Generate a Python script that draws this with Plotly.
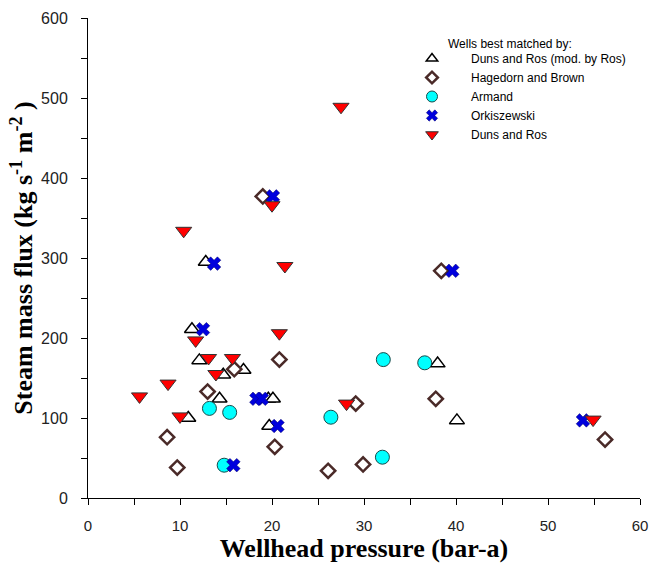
import plotly.graph_objects as go

# Data (wellhead pressure bar-a, steam mass flux kg s-1 m-2)
dr_mod_x = [12.8, 11.3, 12.1, 14.7, 16.9, 14.3, 10.9, 19.6, 20.1, 19.7, 38.0, 40.1]
dr_mod_y = [295, 211, 172, 154, 160, 124, 100, 124, 124, 90, 168, 97]

hb_x = [19.0, 15.9, 13.0, 20.8, 8.6, 9.7, 20.3, 29.1, 37.8, 26.1, 29.9, 38.4, 56.2]
hb_y = [377, 161, 133, 173, 76, 38, 64, 118, 124, 34, 42, 284, 73]

arm_x = [13.2, 15.4, 14.8, 32.1, 36.6, 26.4, 32.0]
arm_y = [112, 107, 41, 173, 169, 101, 51]

ork_x = [20.1, 13.7, 12.5, 18.3, 18.9, 20.6, 15.8, 39.6, 53.8]
ork_y = [377, 293, 211, 124, 124, 90, 41, 284, 97]

dr_x = [27.5, 20.0, 10.4, 21.4, 20.8, 11.7, 13.1, 15.7, 13.9, 8.7, 5.6, 10.0, 28.1, 54.9]
dr_y = [489, 366, 334, 290, 206, 197, 175, 175, 155, 143, 127, 102, 118, 98]

series_names = ["Duns and Ros (mod. by Ros)", "Hagedorn and Brown", "Armand", "Orkiszewski", "Duns and Ros"]
series_data = [(dr_mod_x, dr_mod_y), (hb_x, hb_y), (arm_x, arm_y), (ork_x, ork_y), (dr_x, dr_y)]

styles = [
    dict(symbol="triangle-up", size=13, color="white", line=dict(color="black", width=1.5)),
    dict(symbol="diamond", size=11, color="white", line=dict(color="#4a2a28", width=2.5)),
    dict(symbol="circle", size=14, color="#00ffff", line=dict(color="#1a4a4a", width=1)),
    dict(symbol="x", size=12, color="#0000dd", line=dict(color="#000066", width=0.5)),
    dict(symbol="triangle-down", size=14, color="#ff0000", line=dict(color="#333333", width=1)),
]
legend_sizes = [10, 9, 11, 10, 11]

fig = go.Figure()
for name, (xs, ys), st in zip(series_names, series_data, styles):
    fig.add_trace(go.Scatter(x=xs, y=ys, mode="markers", name=name, marker=st,
                             showlegend=False, legendgroup=name))
# legend entries with smaller symbols, as in the reference
for name, st, ls in zip(series_names, styles, legend_sizes):
    lst = dict(st)
    lst["size"] = ls
    fig.add_trace(go.Scatter(x=[None], y=[None], mode="markers", name=name, marker=lst,
                             showlegend=True, legendgroup=name))

axis_common = dict(showgrid=False, zeroline=False, showline=True, linecolor="black", linewidth=1,
                   ticks="outside", ticklen=6, tickcolor="black", automargin=False)

fig.update_xaxes(range=[0, 60], dtick=10, tick0=0,
                 minor=dict(dtick=5, ticks="outside", ticklen=6, tickcolor="black"),
                 tickfont=dict(family="Liberation Sans, Arial", size=15, color="#222222"),
                 ticklabelstandoff=8,
                 title=dict(text="<b>Wellhead pressure (bar-a)</b>", standoff=8,
                            font=dict(family="Liberation Serif, Times New Roman", size=26, color="black")),
                 **axis_common)
fig.update_yaxes(range=[0, 600], dtick=100, tick0=0,
                 minor=dict(dtick=50, ticks="outside", ticklen=6, tickcolor="black"),
                 tickfont=dict(family="Liberation Sans, Arial", size=16, color="#222222"),
                 ticklabelstandoff=10,
                 title=dict(text="<b>Steam mass flux (kg s<sup>-1</sup> m<sup>-2</sup> )</b>", standoff=0,
                            font=dict(family="Liberation Serif, Times New Roman", size=26, color="black")),
                 **axis_common)

L, R, T, B = 88, 17, 18, 65
pw, ph = 657 - L - R, 563 - T - B

fig.update_layout(
    width=657, height=563,
    margin=dict(l=L, r=R, t=T, b=B),
    plot_bgcolor="white", paper_bgcolor="white",
    font=dict(family="Liberation Serif, Times New Roman"),
    showlegend=True,
    legend=dict(x=(393 - L) / pw, y=1 - (44 - T) / ph, xanchor="left", yanchor="top",
                font=dict(family="Liberation Sans, Arial", size=12, color="black"),
                bgcolor="rgba(0,0,0,0)", tracegroupgap=0, itemsizing="trace",
                itemwidth=68),
    annotations=[dict(text="Wells best matched by:", x=(446 - L) / pw, y=1 - (44 - T) / ph,
                      xref="paper", yref="paper", showarrow=False,
                      xanchor="left", yanchor="middle",
                      font=dict(family="Liberation Sans, Arial", size=12, color="black"))]
)

fig.write_html("out.html")
